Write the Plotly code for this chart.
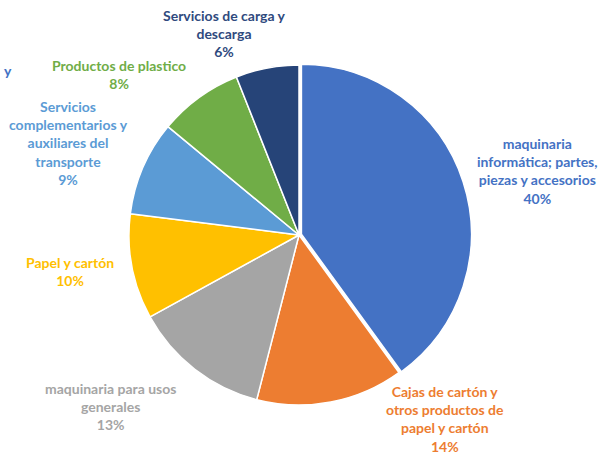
import plotly.graph_objects as go

labels = [
    "maquinaria<br>informática; partes,<br>piezas y accesorios",
    "Cajas de cartón y<br>otros productos de<br>papel y cartón",
    "maquinaria para usos<br>generales",
    "Papel y cartón",
    "Servicios<br>complementarios y<br>auxiliares del<br>transporte",
    "Productos de plastico",
    "Servicios de carga y<br>descarga",
]
values = [40, 14, 13, 10, 9, 8, 6]
colors = ["#4472C4", "#ED7D31", "#A5A5A5", "#FFC000", "#5B9BD5", "#70AD47", "#264478"]
text_colors = ["#4472C4", "#ED7D31", "#A5A5A5", "#FFC000", "#5B9BD5", "#70AD47", "#2F4A7E"]
pulls = [0.015, 0, 0, 0, 0, 0, 0]

# label anchor positions in pixels (center x, top y)
label_pos = [(537, 133), (445, 381), (110, 378), (70, 252), (68, 96), (119, 55), (224, 5)]

W, H = 605, 457
cx, cy, r = 299, 235, 170 * 1.015

fig = go.Figure(go.Pie(
    labels=labels,
    values=values,
    sort=False,
    direction="clockwise",
    rotation=0,
    pull=pulls,
    marker=dict(colors=colors, line=dict(color="white", width=1.5)),
    textinfo="none",
    hoverinfo="label+percent",
    showlegend=False,
    domain=dict(x=[(cx - r) / W, (cx + r) / W], y=[(H - cy - r) / H, (H - cy + r) / H]),
))

total = sum(values)
for lab, v, col, (px, py) in zip(labels, values, text_colors, label_pos):
    fig.add_annotation(
        x=px / W, y=1 - py / H, xref="paper", yref="paper",
        xanchor="center", yanchor="top", showarrow=False,
        text=f"<b>{lab}<br>{round(100 * v / total)}%</b>",
        font=dict(family="Lato", size=14, color=col),
        align="center",
    )

# fragment of a label cut off at the left edge in the source image
fig.add_annotation(
    x=14 / W, y=1 - 60 / H, xref="paper", yref="paper",
    xanchor="right", yanchor="top", showarrow=False,
    text="<b>y</b>", font=dict(family="Lato", size=14, color="#4472C4"),
)

fig.update_layout(
    width=W, height=H,
    margin=dict(l=0, r=0, t=0, b=0),
    paper_bgcolor="white", plot_bgcolor="white",
)

fig.write_html("out.html")
